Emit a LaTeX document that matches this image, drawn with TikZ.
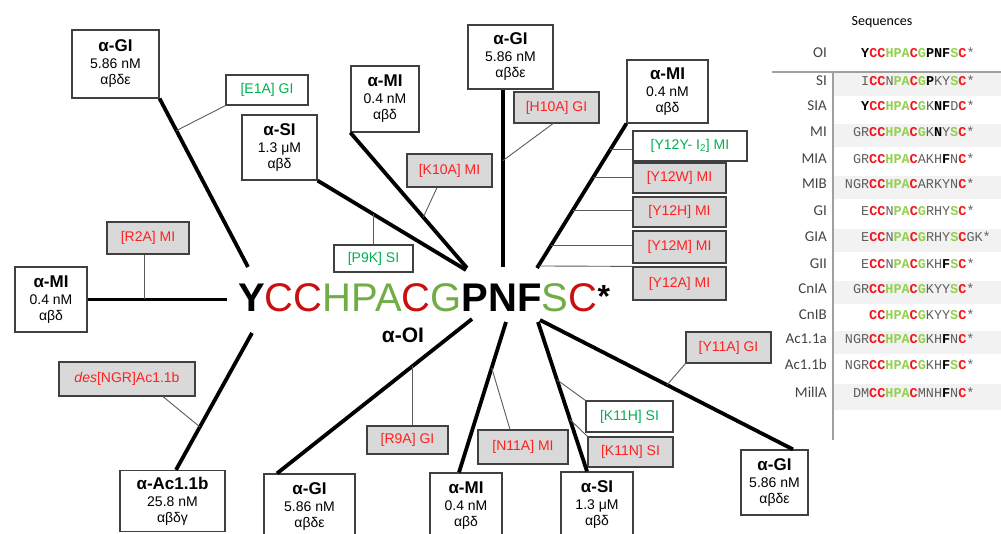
\documentclass[tikz,border=0pt]{standalone}
\usepackage{fontspec}
\setmainfont{Liberation Sans}
\setmonofont{Liberation Mono}
\newfontfamily\calfont{Carlito}
\usetikzlibrary{calc}

\definecolor{sred}{RGB}{200,16,16}
\definecolor{sgreen}{RGB}{112,173,71}
\definecolor{lred}{RGB}{255,32,32}
\definecolor{lgreen}{RGB}{0,176,80}
\definecolor{lgray}{RGB}{217,217,217}
\definecolor{boxgray}{RGB}{64,64,64}
\definecolor{twiggray}{RGB}{90,90,90}
\definecolor{tred}{RGB}{245,20,30}
\definecolor{tgreen}{RGB}{146,208,80}
\definecolor{tgray}{RGB}{95,95,95}
\definecolor{rowgray}{RGB}{242,242,242}
\definecolor{rulegray}{RGB}{160,160,160}

\newcommand{\ctxtext}[3]{{\bfseries\fontsize{17}{19}\selectfont #1}\\[1pt]#2\\#3}
\newcommand{\sqr}[1]{\textcolor{tred}{\bfseries #1}}
\newcommand{\sqg}[1]{\textcolor{tgreen}{\bfseries #1}}
\newcommand{\sqk}[1]{\textcolor{black}{\bfseries #1}}

\tikzset{
  ctxbox/.style={draw=boxgray, fill=white, line width=1.2pt, align=center,
    font=\fontsize{14}{16}\selectfont},
  redbox/.style={draw=boxgray, fill=lgray, line width=1.2pt, text=lred,
    font=\fontsize{14}{16}\selectfont},
  greenbox/.style={draw=boxgray, fill=white, line width=1.2pt, text=lgreen,
    font=\fontsize{14}{16}\selectfont},
  spoke/.style={black, line width=3.8pt},
  twig/.style={twiggray, line width=0.9pt},
  rowlbl/.style={anchor=base east, font=\calfont\fontsize{15}{17}\selectfont, text=tgray!70!black},
  seqtxt/.style={anchor=base west, font=\ttfamily\fontsize{13.5}{15}\selectfont, text=tgray},
  rule/.style={rulegray, line width=1.5pt}
}

\begin{document}
\begin{tikzpicture}[x=1pt,y=1pt]
  \tikzstyle{every node}+=[inner sep=0pt]
  \useasboundingbox (0,0) rectangle (1001,-534);
  \clip (0,0) rectangle (1001,-534);

  % centre sequence
  \node [anchor=base west] (seq) at (238,-312) {\fontsize{40}{44}\selectfont
    \textbf{Y}\textcolor{sred}{CC}\textcolor{sgreen}{HPA}\textcolor{sred}{C}\textcolor{sgreen}{G}\textbf{PNF}\textcolor{sgreen}{S}\textcolor{sred}{C}\raisebox{4pt}{\fontsize{32}{34}\selectfont\textbf{*}}};
  \node [font=\bfseries\fontsize{21}{23}\selectfont] (oilbl) at (403,-335) {α-OI};

  % hub ends
  \coordinate (h1) at (248,-267);
  \coordinate (h2) at (466,-270);
  \coordinate (h3) at (467,-268);
  \coordinate (h4) at (503,-267);
  \coordinate (h5) at (537,-268);
  \coordinate (h6) at (227,-299.5);
  \coordinate (h7) at (252,-333);
  \coordinate (h8) at (472,-319);
  \coordinate (h9) at (506,-322);
  \coordinate (h10) at (538,-322);
  \coordinate (h11) at (540,-320);

  % parent toxins
  \node [ctxbox, minimum width=87pt, minimum height=68pt] (gi1) at (115.5,-64) {\ctxtext{α-GI}{5.86 nM}{αβδε}};
  \node [ctxbox, minimum width=75pt, minimum height=65pt] (si1) at (279.5,-147.5) {\ctxtext{α-SI}{1.3 μM}{αβδ}};
  \node [ctxbox, minimum width=68pt, minimum height=66pt] (mi1) at (385,-99) {\ctxtext{α-MI}{0.4 nM}{αβδ}};
  \node [ctxbox, minimum width=85pt, minimum height=64pt] (gi2) at (510.5,-57) {\ctxtext{α-GI}{5.86 nM}{αβδε}};
  \node [ctxbox, minimum width=81pt, minimum height=63pt] (mi2) at (667.5,-91.5) {\ctxtext{α-MI}{0.4 nM}{αβδ}};
  \node [ctxbox, minimum width=72pt, minimum height=65pt] (mi3) at (51,-299.5) {\ctxtext{α-MI}{0.4 nM}{αβδ}};
  \node [ctxbox, minimum width=105pt, minimum height=61pt] (ac) at (172.5,-501) {\ctxtext{α-Ac1.1b}{25.8 nM}{αβδγ}};
  \node [ctxbox, minimum width=91pt, minimum height=66pt] (gi3) at (309.5,-507) {\ctxtext{α-GI}{5.86 nM}{αβδε}};
  \node [ctxbox, minimum width=72pt, minimum height=66pt] (mi4) at (466,-506) {\ctxtext{α-MI}{0.4 nM}{αβδ}};
  \node [ctxbox, minimum width=72pt, minimum height=66pt] (si2) at (597,-505) {\ctxtext{α-SI}{1.3 μM}{αβδ}};
  \node [ctxbox, minimum width=67pt, minimum height=65pt] (gi4) at (774.5,-482.5) {\ctxtext{α-GI}{5.86 nM}{αβδε}};

  % analogues
  \node [greenbox, minimum width=82pt, minimum height=30pt] (lE1A) at (267,-90) {[E1A] GI};
  \node [redbox, minimum width=82pt, minimum height=32pt] (lR2A) at (148,-238) {[R2A] MI};
  \node [redbox, minimum width=85pt, minimum height=31pt] (lH10A) at (556.5,-107.5) {[H10A] GI};
  \node [redbox, minimum width=85pt, minimum height=33pt] (lK10A) at (449.5,-170.5) {[K10A] MI};
  \node [greenbox, minimum width=79pt, minimum height=27pt] (lP9K) at (373.5,-258.5) {[P9K] SI};
  \node [greenbox, minimum width=114pt, minimum height=30pt] (lY12Y) at (690,-146) {[Y12Y- I\textsubscript{2}] MI};
  \node [redbox, minimum width=93pt, minimum height=30pt] (lY12W) at (679.5,-178) {[Y12W] MI};
  \node [redbox, minimum width=93pt, minimum height=30pt] (lY12H) at (679.5,-212) {[Y12H] MI};
  \node [redbox, minimum width=93pt, minimum height=32pt] (lY12M) at (679.5,-247) {[Y12M] MI};
  \node [redbox, minimum width=93pt, minimum height=33pt] (lY12A) at (679.5,-283.5) {[Y12A] MI};
  \node [redbox, minimum width=136pt, minimum height=34pt] (lNGR) at (127,-379) {\textit{des}[NGR]Ac1.1b};
  \node [redbox, minimum width=81pt, minimum height=28pt] (lR9A) at (407.5,-440) {[R9A] GI};
  \node [redbox, minimum width=90pt, minimum height=34pt] (lN11A) at (523,-447) {[N11A] MI};
  \node [greenbox, minimum width=87pt, minimum height=31pt] (lK11H) at (629.5,-416.5) {[K11H] SI};
  \node [redbox, minimum width=85pt, minimum height=30pt] (lK11N) at (630.5,-452) {[K11N] SI};
  \node [redbox, minimum width=85pt, minimum height=31pt] (lY11A) at (728.5,-347.5) {[Y11A] GI};

  % spokes
  \draw [spoke] (gi1.south east) -- coordinate[pos=0.19] (e1a) (h1);
  \draw [spoke] (si1.south east) -- coordinate[pos=0.376] (p9k) (h2);
  \draw [spoke] (mi1.south west) -- coordinate[pos=0.625] (k10a) (h3);
  \draw [spoke] ([xshift=-7.5pt]gi2.south) -- coordinate[pos=0.4] (h10a) (h4);
  \draw [spoke] (mi2.south west) -- coordinate[pos=0.179] (y12y) coordinate[pos=0.372] (y12w)
    coordinate[pos=0.6] (y12h) coordinate[pos=0.841] (y12m) coordinate[pos=0.986] (y12a) (h5);
  \draw [spoke] (mi3.east) -- coordinate[pos=0.407] (r2a) (h6);
  \draw [spoke] ([xshift=3.5pt]ac.north) -- coordinate[pos=0.314] (ngr) (h7);
  \draw [spoke] ([xshift=-32.5pt]gi3.north) -- coordinate[pos=0.697] (r9a) (h8);
  \draw [spoke] ([xshift=-7pt]mi4.north) -- coordinate[pos=0.695] (n11a) (h9);
  \draw [spoke] ([xshift=-10pt]si2.north) -- coordinate[pos=0.613] (k11h) coordinate[pos=0.347] (k11n) (h10);
  \draw [spoke] ([xshift=18.5pt]gi4.north) -- coordinate[pos=0.498] (y11a) (h11);

  % analogue ties
  \draw [twig] (lE1A.south west) -- (e1a);
  \draw [twig] (p9k |- lP9K.north) -- (p9k);
  \draw [twig] ([xshift=-12.5pt]lK10A.south) -- (k10a);
  \draw [twig] ([xshift=-3.5pt]lH10A.south) -- (h10a);
  \draw [twig] (y12y) -- (y12y -| lY12Y.west);
  \draw [twig] (y12w) -- (y12w -| lY12W.west);
  \draw [twig] (y12h) -- (y12h -| lY12H.west);
  \draw [twig] (y12m) -- (y12m -| lY12M.west);
  \draw [twig] (y12a) -- (lY12A.north west);
  \draw [twig] (r2a |- lR2A.south) -- (r2a);
  \draw [twig] ([xshift=36pt]lNGR.south) -- (ngr);
  \draw [twig] (r9a |- lR9A.north) -- (r9a);
  \draw [twig] ([xshift=-13pt]lN11A.north) -- (n11a);
  \draw [twig] (lK11H.north west) -- (k11h);
  \draw [twig] (lK11N.north west) -- (k11n);
  \draw [twig] (lY11A.south west) -- (y11a);

  % sequence table
  \node [font=\calfont\fontsize{14}{16}\selectfont] (hdr) at (882,-22) {Sequences};
  \fill [rowgray] (833,-73) rectangle (1001,-96);
  \fill [rowgray] (833,-124) rectangle (1001,-147);
  \fill [rowgray] (833,-176) rectangle (1001,-199);
  \fill [rowgray] (833,-229) rectangle (1001,-252);
  \fill [rowgray] (833,-281) rectangle (1001,-304);
  \fill [rowgray] (833,-331) rectangle (1001,-354);
  \fill [rowgray] (833,-384) rectangle (1001,-410);
  \draw [rule] (772,-72) -- (1001,-72);
  \draw [rule] (833,-72) -- (833,-440);

  \node [rowlbl] (nOI) at (827,-58) {OI};
  \node [seqtxt] (sOI) at (861,-58) {\sqk{Y}\sqr{CC}\sqg{HPA}\sqr{C}\sqg{G}\sqk{PNF}\sqg{S}\sqr{C}*};
  \node [rowlbl] (nSI) at (827,-86) {SI};
  \node [seqtxt] (sSI) at (861,-86) {I\sqr{CC}N\sqg{PA}\sqr{C}\sqg{G}\sqk{P}KY\sqg{S}\sqr{C}*};
  \node [rowlbl] (nSIA) at (827,-111) {SIA};
  \node [seqtxt] (sSIA) at (861,-111) {\sqk{Y}\sqr{CC}\sqg{HPA}\sqr{C}\sqg{G}K\sqk{NF}D\sqr{C}*};
  \node [rowlbl] (nMI) at (827,-137) {MI};
  \node [seqtxt] (sMI) at (852.8,-137) {GR\sqr{CC}\sqg{HPA}\sqr{C}\sqg{G}K\sqk{N}Y\sqg{S}\sqr{C}*};
  \node [rowlbl] (nMIA) at (827,-164) {MIA};
  \node [seqtxt] (sMIA) at (852.8,-164) {GR\sqr{CC}\sqg{HPA}\sqr{C}AKH\sqk{F}N\sqr{C}*};
  \node [rowlbl] (nMIB) at (827,-189) {MIB};
  \node [seqtxt] (sMIB) at (844.7,-189) {NGR\sqr{CC}\sqg{HPA}\sqr{C}ARKYN\sqr{C}*};
  \node [rowlbl] (nGI) at (827,-216) {GI};
  \node [seqtxt] (sGI) at (861,-216) {E\sqr{CC}N\sqg{PA}\sqr{C}\sqg{G}RHY\sqg{S}\sqr{C}*};
  \node [rowlbl] (nGIA) at (827,-242) {GIA};
  \node [seqtxt] (sGIA) at (861,-242) {E\sqr{CC}N\sqg{PA}\sqr{C}\sqg{G}RHY\sqg{S}\sqr{C}GK*};
  \node [rowlbl] (nGII) at (827,-269) {GII};
  \node [seqtxt] (sGII) at (861,-269) {E\sqr{CC}N\sqg{PA}\sqr{C}\sqg{G}KH\sqk{F}\sqg{S}\sqr{C}*};
  \node [rowlbl] (nCnIA) at (827,-294) {CnIA};
  \node [seqtxt] (sCnIA) at (852.8,-294) {GR\sqr{CC}\sqg{HPA}\sqr{C}\sqg{G}KYY\sqg{S}\sqr{C}*};
  \node [rowlbl] (nCnIB) at (827,-320) {CnIB};
  \node [seqtxt] (sCnIB) at (869,-320) {\sqr{CC}\sqg{HPA}\sqr{C}\sqg{G}KYY\sqg{S}\sqr{C}*};
  \node [rowlbl] (nAca) at (827,-344) {Ac1.1a};
  \node [seqtxt] (sAca) at (844.7,-344) {NGR\sqr{CC}\sqg{HPA}\sqr{C}\sqg{G}KH\sqk{F}N\sqr{C}*};
  \node [rowlbl] (nAcb) at (827,-370) {Ac1.1b};
  \node [seqtxt] (sAcb) at (844.7,-370) {NGR\sqr{CC}\sqg{HPA}\sqr{C}\sqg{G}KH\sqk{F}\sqg{S}\sqr{C}*};
  \node [rowlbl] (nMill) at (827,-397) {MillA};
  \node [seqtxt] (sMill) at (852.8,-397) {DM\sqr{CC}\sqg{HPA}\sqr{C}MNH\sqk{F}N\sqr{C}*};
\end{tikzpicture}
\end{document}
